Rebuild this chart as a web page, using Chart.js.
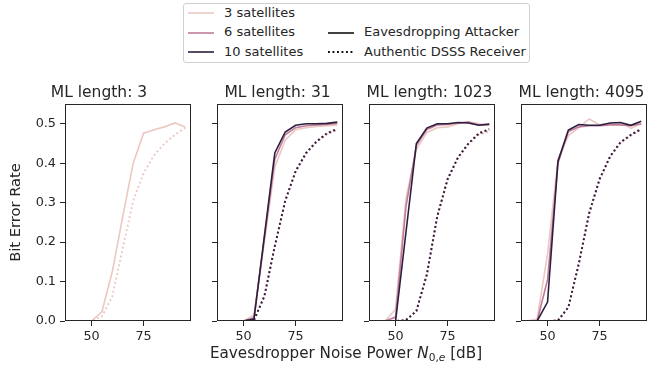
<!DOCTYPE html>
<html><head><meta charset="utf-8">
<script src="https://cdn.jsdelivr.net/npm/chart.js@4.4.0/dist/chart.umd.min.js"></script>
<style>
html,body{margin:0;padding:0;background:#fff;}
#wrap{position:relative;width:647px;height:367px;overflow:hidden;font-family:'DejaVu Sans',sans-serif;color:#262626;}
#wrap canvas{position:absolute;left:0;top:0;}
.lg{position:absolute;font-size:13px;line-height:16px;white-space:nowrap;}
.ls{position:absolute;}
#xlabel{position:absolute;left:146px;width:400px;top:345px;text-align:center;font-size:15.2px;line-height:16px;white-space:nowrap;}
</style></head><body>
<div id="wrap">
<canvas id="c0" width="647" height="367"></canvas>
<canvas id="c1" width="647" height="367"></canvas>
<canvas id="c2" width="647" height="367"></canvas>
<canvas id="c3" width="647" height="367"></canvas>
<div id="legendBox" style="position:absolute;left:183px;top:3px;width:345px;height:58px;border:1px solid #d0d0d0;border-radius:3px;background:#fff;"></div>
<div id="legendItems"></div>
<div id="xlabel">Eavesdropper Noise Power <i>N</i><sub style="font-size:70%;vertical-align:-0.3em;">0,<i>e</i></sub> [dB]</div>
</div>
<script>
// ---------- data ----------
const noisePower = [40,45,50,55,60,65,70,75,80,85,90,95];
const mlLengths = ['3','31','1023','4095'];
const satCounts = ['3 satellites','6 satellites','10 satellites'];
const receiverTypes = ['Eavesdropping Attacker','Authentic DSSS Receiver'];
const yTicks = [0.0,0.1,0.2,0.3,0.4,0.5];
const xTicks = [50,75];

// ML length 3 (3 satellites only)
const ml3_att_3 = [0,0,0,0.024,0.126,0.265,0.40,0.476,0.485,0.492,0.502,0.492];
const ml3_rec_3 = [0,0,0,0.012,0.063,0.185,0.305,0.375,0.42,0.45,0.472,0.49];

// ML length 31
const ml31_att_3  = [0,0,0,0.015,0.20,0.39,0.458,0.485,0.49,0.493,0.495,0.496];
const ml31_att_6  = [0,0,0,0.008,0.21,0.41,0.472,0.49,0.495,0.497,0.498,0.501];
const ml31_att_10 = [0,0,0,0.005,0.215,0.426,0.479,0.496,0.5,0.5,0.501,0.504];
const ml31_rec_3  = [0,0,0,0.003,0.064,0.19,0.306,0.38,0.425,0.453,0.473,0.484];
const ml31_rec_6  = [0,0,0,0.002,0.062,0.188,0.303,0.378,0.424,0.454,0.474,0.486];
const ml31_rec_10 = [0,0,0,0.002,0.063,0.19,0.305,0.38,0.426,0.455,0.476,0.487];

// ML length 1023
const ml1023_att_3  = [0,0,0.03,0.31,0.435,0.478,0.49,0.492,0.5,0.505,0.5,0.496];
const ml1023_att_6  = [0,0,0.01,0.29,0.445,0.485,0.497,0.498,0.502,0.504,0.497,0.498];
const ml1023_att_10 = [0,0,0,0.225,0.45,0.489,0.5,0.5,0.503,0.502,0.496,0.499];
const ml1023_rec_3  = [0,0,0,0.003,0.027,0.118,0.263,0.358,0.413,0.448,0.472,0.48];
const ml1023_rec_6  = [0,0,0,0.002,0.026,0.117,0.264,0.359,0.414,0.45,0.474,0.484];
const ml1023_rec_10 = [0,0,0,0.002,0.025,0.117,0.265,0.36,0.415,0.45,0.476,0.486];

// ML length 4095
const ml4095_att_3  = [0,0.005,0.17,0.41,0.47,0.49,0.512,0.497,0.50,0.503,0.488,0.50];
const ml4095_att_6  = [0,0,0.105,0.40,0.48,0.492,0.495,0.495,0.497,0.497,0.495,0.50];
const ml4095_att_10 = [0,0,0.048,0.405,0.484,0.498,0.496,0.496,0.502,0.503,0.496,0.506];
const ml4095_rec_3  = [0,0,0,0.002,0.036,0.146,0.272,0.358,0.415,0.451,0.47,0.485];
const ml4095_rec_6  = [0,0,0,0.001,0.035,0.145,0.273,0.359,0.416,0.452,0.471,0.486];
const ml4095_rec_10 = [0,0,0,0.001,0.035,0.145,0.274,0.36,0.417,0.453,0.472,0.487];

// ---------- styling ----------
const satColors = ['#ebc8c2','#bf7b99','#2d1e3e'];
const FONT = "'DejaVu Sans', sans-serif";
const INK = '#262626';
const panelLefts = [65,217,369,521];
const panelWidth = 126;
const panelTop = 104, panelBottom = 321;
const W = 647, H = 367;

const panels = [
  {att:[ml3_att_3,null,null], rec:[ml3_rec_3,null,null]},
  {att:[ml31_att_3,ml31_att_6,ml31_att_10], rec:[ml31_rec_3,ml31_rec_6,ml31_rec_10]},
  {att:[ml1023_att_3,ml1023_att_6,ml1023_att_10], rec:[ml1023_rec_3,ml1023_rec_6,ml1023_rec_10]},
  {att:[ml4095_att_3,ml4095_att_6,ml4095_att_10], rec:[ml4095_rec_3,ml4095_rec_6,ml4095_rec_10]}
];

const boxPlugin = {
  id:'box',
  afterDatasetsDraw(chart){
    const a = chart.chartArea, ctx = chart.ctx;
    ctx.save();
    ctx.strokeStyle = INK; ctx.lineWidth = 1;
    const l = Math.round(a.left)+0.5, r = Math.round(a.right)-0.5;
    const t = Math.round(a.top)+0.5, b = Math.round(a.bottom)-0.5;
    ctx.strokeRect(l, t, r-l, b-t);
    ctx.restore();
  }
};

function pts(arr){ return noisePower.map((x,i)=>({x:x, y:arr[i]})); }

panels.forEach((p, pi) => {
  const ds = [];
  // first in list is drawn on top: 10 sats on top
  for (let s = 2; s >= 0; s--) {
    if (p.rec[s]) ds.push({label: satCounts[s]+' '+receiverTypes[1], data: pts(p.rec[s]),
      borderColor: satColors[s], borderWidth: 1.9, borderDash:[1.9,2.6], borderCapStyle:'butt',
      pointRadius:0, fill:false, tension:0});
    if (p.att[s]) ds.push({label: satCounts[s]+' '+receiverTypes[0], data: pts(p.att[s]),
      borderColor: satColors[s], borderWidth: 1.6, pointRadius:0, fill:false, tension:0});
  }
  const first = pi === 0;
  const yW = first ? 58 : 5;
  const left = panelLefts[pi];
  const right = left + panelWidth;
  const xH = 30;
  const titleLH = 18.6, titlePadB = 2;
  new Chart(document.getElementById('c'+pi), {
    type:'line',
    data:{datasets: ds},
    plugins:[boxPlugin],
    options:{
      responsive:false, animation:false, devicePixelRatio:1,
      layout:{padding:{left:left - yW, right: W - right, top: panelTop - titleLH - titlePadB, bottom: H - panelBottom - xH}},
      plugins:{
        legend:{display:false}, tooltip:{enabled:false},
        title:{display:true, text:'ML length: '+mlLengths[pi], color:INK,
          font:{family:FONT, size:15.5, weight:'normal', lineHeight:1.2}, padding:{top:0,bottom:titlePadB}}
      },
      scales:{
        x:{type:'linear', min:37.25, max:97.75,
          afterBuildTicks(sc){ sc.ticks = xTicks.map(v=>({value:v})); },
          afterFit(sc){ sc.height = xH; },
          ticks:{color:INK, font:{family:FONT,size:12.8}, padding:3, maxRotation:0, autoSkip:false},
          grid:{display:true, drawOnChartArea:false, drawTicks:true, tickLength:5, color:INK, tickColor:INK, lineWidth:1},
          border:{display:false}
        },
        y:{type:'linear', min:0, max:0.55,
          afterBuildTicks(sc){ sc.ticks = yTicks.map(v=>({value:v})); },
          afterFit(sc){ sc.width = yW; },
          ticks:{display:first, color:INK, font:{family:FONT,size:12.8}, padding:4,
            callback:(v)=>Number(v).toFixed(1)},
          grid:{display:true, drawOnChartArea:false, drawTicks:true, tickLength:5, color:INK, tickColor:INK, lineWidth:1},
          border:{display:false},
          title:{display:first, text:'Bit Error Rate', color:INK, font:{family:FONT,size:14.7}, padding:{top:0,bottom:0}}
        }
      }
    }
  });
});

// ---------- legend (HTML) ----------
const legendItems = document.getElementById('legendItems');
const rowY = [13, 32.5, 52];
function sample(x, y, color, dashed){
  const svg = `<svg class="ls" style="left:${x}px;top:${y-3}px" width="27" height="6"><line x1="0" y1="3" x2="26" y2="3" stroke="${color}" stroke-width="${dashed?1.9:1.6}" ${dashed?'stroke-dasharray="1.9 2.6"':''}/></svg>`;
  legendItems.insertAdjacentHTML('beforeend', svg);
}
function text(x, y, t){
  legendItems.insertAdjacentHTML('beforeend', `<div class="lg" style="left:${x}px;top:${y-8.5}px">${t}</div>`);
}
satCounts.forEach((s,i)=>{ sample(188,rowY[i],satColors[i],false); text(224,rowY[i],s); });
receiverTypes.forEach((r,i)=>{ sample(328,rowY[i+1],'#111',i===1); text(364,rowY[i+1],r); });
</script>
</body></html>
